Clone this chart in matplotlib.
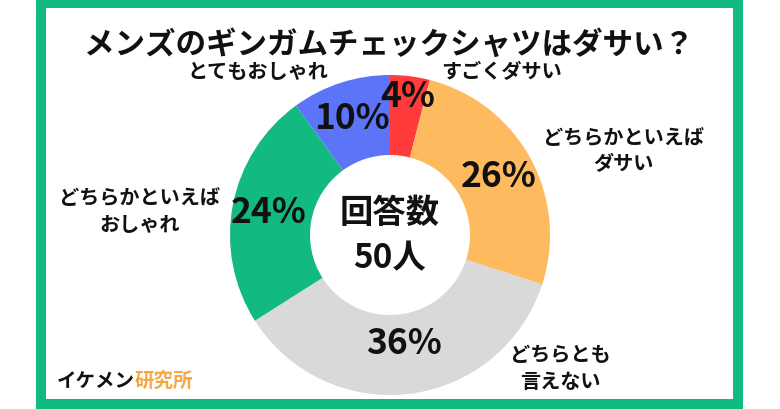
import matplotlib
matplotlib.use("Agg")
import matplotlib.pyplot as plt
import numpy as np
from matplotlib.patches import Rectangle

plt.rcParams['font.family'] = ['Noto Sans CJK JP', 'DejaVu Sans']

title = "メンズのギンガムチェックシャツはダサい？"
categories = ["すごくダサい", "どちらかといえば\nダサい", "どちらとも\n言えない",
              "どちらかといえば\nおしゃれ", "とてもおしゃれ"]
values = [4, 26, 36, 24, 10]
colors = ["#FF3B3B", "#FDBA5E", "#D9D9D9", "#12B981", "#5B74F8"]
center_text = "回答数\n50人"

W, H = 780, 410
fig = plt.figure(figsize=(7.8, 4.1), dpi=100)
ax = fig.add_axes([0, 0, 1, 1])

def Y(y):  # image y -> data y
    return H - y

# green frame
ax.add_patch(Rectangle((36, Y(410)), 707, 410, facecolor="#10BA81", edgecolor="none", zorder=0))
ax.add_patch(Rectangle((46, Y(400)), 687, 391, facecolor="white", edgecolor="none", zorder=0.5))

cx, cy, R = 390, Y(236), 160
wedges, _ = ax.pie(values, colors=colors, startangle=90, counterclock=False,
                   radius=R, center=(cx, cy), wedgeprops=dict(width=80, edgecolor="none"),
                   frame=True)

# percentage labels
total = sum(values)
cum = np.cumsum([0] + values[:-1])
radii = [141, 124, 108, 124, 124]
for v, c, r in zip(values, cum, radii):
    theta = np.deg2rad((c + v / 2) / total * 360)
    x = cx + r * np.sin(theta)
    y = cy + r * np.cos(theta)
    ax.text(x, y, f"{v}%", ha="center", va="center", fontsize=25.5, fontweight="bold",
            color="#111111", zorder=5)

# category labels
label_pos = [(502, 72), (623, 151), (560, 368), (140, 211), (258, 72)]
for lab, (x, y) in zip(categories, label_pos):
    ax.text(x, Y(y), lab, ha="center", va="center", fontsize=14.5, fontweight="bold",
            color="#111111", linespacing=1.3, zorder=5)

ax.text(cx, cy, center_text, ha="center", va="center", fontsize=24, fontweight="bold",
        color="#111111", linespacing=1.45, zorder=5)

ax.text(389, Y(45), title, ha="center", va="center", fontsize=22, fontweight="bold",
        color="#111111", zorder=5)

ax.text(57, Y(381), "イケメン", ha="left", va="center", fontsize=14, fontweight="bold",
        color="#111111", zorder=5)
ax.text(135, Y(381), "研究所", ha="left", va="center", fontsize=14, fontweight="bold",
        color="#F5A742", zorder=5)

ax.set_xlim(0, W)
ax.set_ylim(0, H)
ax.set_aspect("auto")
ax.axis("off")
fig.savefig("out.png", dpi=100, facecolor="white")
